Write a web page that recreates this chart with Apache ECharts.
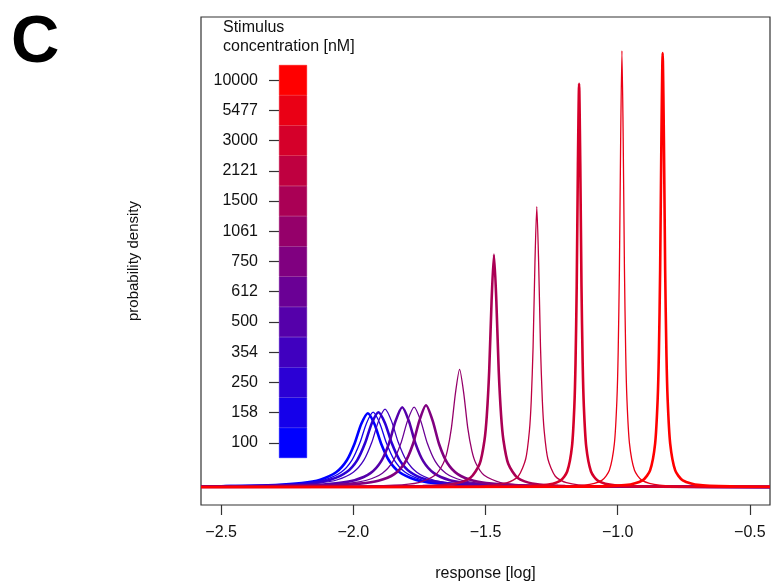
<!DOCTYPE html>
<html>
<head>
<meta charset="utf-8">
<script src="https://cdn.jsdelivr.net/npm/echarts@6/dist/echarts.min.js"></script>
<style>
  html, body { margin: 0; padding: 0; background: #fff; }
  #chart { width: 772px; height: 587px; }
</style>
</head>
<body>
<div id="chart"></div>
<script>
// stimulus concentrations [nM], low -> high
const concentrations = ['100', '158', '250', '354', '500', '612', '750', '1061', '1500', '2121', '3000', '5477', '10000']
const xTicks = [-2.5, -2.0, -1.5, -1.0, -0.5]

// density curves, [response(log), density]
const curve100 = [[-2.576,0.07],[-2.5,0.085],[-2.295,0.21],[-2.195,0.40],[-2.125,0.74],[-2.065,1.48],[-2.025,2.66],[-1.995,4.37],[-1.97,6.31],[-1.945,7.4],[-1.92,6.31],[-1.895,4.37],[-1.865,2.66],[-1.825,1.48],[-1.765,0.74],[-1.695,0.40],[-1.595,0.21],[-1.445,0.105],[-1.145,0.04],[-0.424,0.01]]
const curve158 = [[-2.576,0.066],[-2.5,0.081],[-2.275,0.21],[-2.175,0.41],[-2.105,0.75],[-2.045,1.50],[-2.005,2.70],[-1.975,4.43],[-1.95,6.40],[-1.925,7.5],[-1.9,6.40],[-1.875,4.43],[-1.845,2.70],[-1.805,1.50],[-1.745,0.75],[-1.675,0.41],[-1.575,0.21],[-1.425,0.106],[-1.125,0.042],[-0.424,0.01]]
const curve250 = [[-2.576,0.062],[-2.5,0.076],[-2.255,0.21],[-2.155,0.41],[-2.085,0.75],[-2.025,1.50],[-1.985,2.70],[-1.955,4.43],[-1.93,6.40],[-1.905,7.5],[-1.88,6.40],[-1.855,4.43],[-1.825,2.70],[-1.785,1.50],[-1.725,0.75],[-1.655,0.41],[-1.555,0.21],[-1.405,0.106],[-1.105,0.042],[-0.424,0.011]]
const curve354 = [[-2.576,0.056],[-2.5,0.068],[-2.23,0.21],[-2.13,0.40],[-2.06,0.73],[-2.0,1.48],[-1.96,2.69],[-1.93,4.48],[-1.905,6.58],[-1.88,7.8],[-1.855,6.58],[-1.83,4.48],[-1.8,2.69],[-1.76,1.48],[-1.7,0.73],[-1.63,0.40],[-1.53,0.21],[-1.38,0.104],[-1.08,0.041],[-0.424,0.011]]
const curve500 = [[-2.576,0.042],[-2.5,0.05],[-2.165,0.19],[-2.065,0.37],[-1.995,0.68],[-1.935,1.39],[-1.895,2.57],[-1.865,4.38],[-1.84,6.63],[-1.815,8.0],[-1.79,6.63],[-1.765,4.38],[-1.735,2.57],[-1.695,1.39],[-1.635,0.68],[-1.565,0.37],[-1.465,0.19],[-1.315,0.096],[-1.015,0.038],[-0.424,0.011]]
const curve612 = [[-2.576,0.038],[-2.5,0.045],[-2.12,0.19],[-2.02,0.37],[-1.95,0.68],[-1.89,1.39],[-1.85,2.57],[-1.82,4.38],[-1.795,6.63],[-1.77,8.0],[-1.745,6.63],[-1.72,4.38],[-1.69,2.57],[-1.65,1.39],[-1.59,0.68],[-1.52,0.37],[-1.42,0.19],[-1.27,0.096],[-0.97,0.038],[-0.424,0.012]]
const curve750 = [[-2.576,0.032],[-2.5,0.037],[-2.075,0.18],[-1.975,0.34],[-1.905,0.63],[-1.845,1.30],[-1.805,2.44],[-1.775,4.26],[-1.75,6.66],[-1.725,8.2],[-1.7,6.66],[-1.675,4.26],[-1.645,2.44],[-1.605,1.30],[-1.545,0.63],[-1.475,0.34],[-1.375,0.18],[-1.225,0.088],[-0.925,0.034],[-0.424,0.013]]
const curve1061 = [[-2.576,0.012],[-2.5,0.014],[-2.063,0.052],[-1.846,0.18],[-1.753,0.45],[-1.691,1.18],[-1.66,2.36],[-1.6445,3.63],[-1.629,5.9],[-1.6135,9.44],[-1.598,11.8],[-1.5825,9.44],[-1.567,5.9],[-1.5515,3.63],[-1.536,2.36],[-1.505,1.18],[-1.443,0.45],[-1.35,0.18],[-1.133,0.052],[-0.424,0.009]]
const curve1500 = [[-2.576,0.006],[-2.5,0.007],[-1.738,0.10],[-1.612,0.36],[-1.558,0.90],[-1.522,2.33],[-1.504,4.66],[-1.495,7.18],[-1.486,11.65],[-1.477,18.64],[-1.468,23.3],[-1.459,18.64],[-1.45,11.65],[-1.441,7.18],[-1.432,4.66],[-1.414,2.33],[-1.378,0.90],[-1.324,0.36],[-1.198,0.10],[-0.424,0.006]]
const curve2121 = [[-2.576,0.004],[-2.5,0.004],[-1.516,0.12],[-1.418,0.43],[-1.376,1.08],[-1.348,2.81],[-1.334,5.62],[-1.327,8.65],[-1.32,14.05],[-1.313,22.48],[-1.306,28.1],[-1.299,22.48],[-1.292,14.05],[-1.285,8.65],[-1.278,5.62],[-1.264,2.81],[-1.236,1.08],[-1.194,0.43],[-1.096,0.12],[-0.424,0.006]]
const curve3000 = [[-2.576,0.003],[-2.5,0.003],[-1.446,0.036],[-1.281,0.18],[-1.218,0.62],[-1.191,1.56],[-1.173,4.04],[-1.164,8.08],[-1.1595,12.44],[-1.155,20.2],[-1.1505,32.32],[-1.146,40.4],[-1.1415,32.32],[-1.137,20.2],[-1.1325,12.44],[-1.128,8.08],[-1.119,4.04],[-1.101,1.56],[-1.074,0.62],[-1.011,0.18],[-0.846,0.036],[-0.424,0.002]]
const curve5477 = [[-2.576,0.002],[-2.5,0.002],[-1.284,0.043],[-1.1265,0.19],[-1.06,0.67],[-1.0315,1.68],[-1.0125,4.37],[-1.003,8.74],[-0.99825,13.46],[-0.9935,21.85],[-0.98875,34.96],[-0.984,43.7],[-0.97925,34.96],[-0.9745,21.85],[-0.96975,13.46],[-0.965,8.74],[-0.9555,4.37],[-0.9365,1.68],[-0.908,0.67],[-0.8415,0.19],[-0.684,0.043],[-0.424,0.007]]
const curve10000 = [[-2.576,0.001],[-2.5,0.001],[-1.13,0.043],[-0.9725,0.19],[-0.906,0.67],[-0.8775,1.67],[-0.8585,4.35],[-0.849,8.7],[-0.84425,13.4],[-0.8395,21.75],[-0.83475,34.8],[-0.83,43.5],[-0.82525,34.8],[-0.8205,21.75],[-0.81575,13.4],[-0.811,8.7],[-0.8015,4.35],[-0.7825,1.67],[-0.754,0.67],[-0.6875,0.19],[-0.53,0.043],[-0.424,0.03]]

const curves = [curve100, curve158, curve250, curve354, curve500, curve612, curve750,
  curve1061, curve1500, curve2121, curve3000, curve5477, curve10000]
// heavy / light strokes as they appear
const thick = [true, false, true, false, true, false, true, false, true, false, true, false, true]

// blue -> red ramp, one colour per concentration
function rampColor(i, n) {
  const t = i / (n - 1)
  return 'rgb(' + Math.round(255 * t) + ',0,' + Math.round(255 * (1 - t)) + ')'
}
const colors = concentrations.map((c, i) => rampColor(i, concentrations.length))

const fmt = v => (v < 0 ? '\u2212' : '') + Math.abs(v).toFixed(1)

const lineSeries = curves.map((d, i) => ({
  type: 'line',
  name: concentrations[i],
  xAxisIndex: 0,
  yAxisIndex: 0,
  data: d,
  showSymbol: false,
  smooth: 0.25,
  lineStyle: { color: colors[i], width: thick[i] ? 2.6 : 1.3, cap: 'butt' },
  z: 2 + i
}))

// colour key drawn as a stacked strip of bars
const barSeries = {
  type: 'bar',
  xAxisIndex: 1,
  yAxisIndex: 1,
  barWidth: '100%',
  data: concentrations.map((c, i) => ({
    value: 1,
    itemStyle: { color: colors[i], borderColor: colors[i], borderWidth: 0.6 }
  })),
  z: 2
}

const chart = echarts.init(document.getElementById('chart'))
const font = '"Liberation Sans", Arial, sans-serif'
chart.setOption({
  animation: false,
  backgroundColor: '#fff',
  textStyle: { fontFamily: font },
  grid: [
    { left: 201, top: 17, width: 569, height: 489, show: true, borderColor: '#333', borderWidth: 1.2, backgroundColor: 'transparent' },
    { left: 279, top: 65, width: 28, height: 393 }
  ],
  xAxis: [
    {
      type: 'value', gridIndex: 0, min: -2.576, max: -0.424,
      axisLine: { show: false, onZero: false },
      splitLine: { show: false },
      axisTick: { show: true, inside: false, length: 10, lineStyle: { color: '#333', width: 1.2 }, customValues: xTicks },
      axisLabel: { fontSize: 16, color: '#111', margin: 20, formatter: fmt, customValues: xTicks },
      name: 'response [log]', nameLocation: 'middle', nameGap: 61,
      nameTextStyle: { fontSize: 16, color: '#111' }
    },
    { type: 'value', gridIndex: 1, min: 0, max: 1, show: false }
  ],
  yAxis: [
    {
      type: 'value', gridIndex: 0, min: -1.8, max: 47.1,
      axisLine: { show: false, onZero: false }, axisTick: { show: false }, axisLabel: { show: false },
      splitLine: { show: false },
      name: 'probability density', nameLocation: 'middle', nameGap: 60,
      nameTextStyle: { fontSize: 15, color: '#111' }
    },
    {
      type: 'category', gridIndex: 1, data: concentrations,
      axisLine: { show: false },
      axisTick: { show: true, alignWithLabel: true, length: 10, lineStyle: { color: '#333', width: 1.2 } },
      axisLabel: { fontSize: 16, color: '#111', margin: 21 },
      splitLine: { show: false }
    }
  ],
  graphic: [
    { type: 'text', left: 11, top: 10, style: { text: 'C', font: 'bold 67px ' + font, fill: '#000' } },
    { type: 'text', left: 223, top: 18, style: { text: 'Stimulus\nconcentration [nM]', font: '16px ' + font, fill: '#111', lineHeight: 19 } }
  ],
  series: lineSeries.concat([barSeries])
})
</script>
</body>
</html>
